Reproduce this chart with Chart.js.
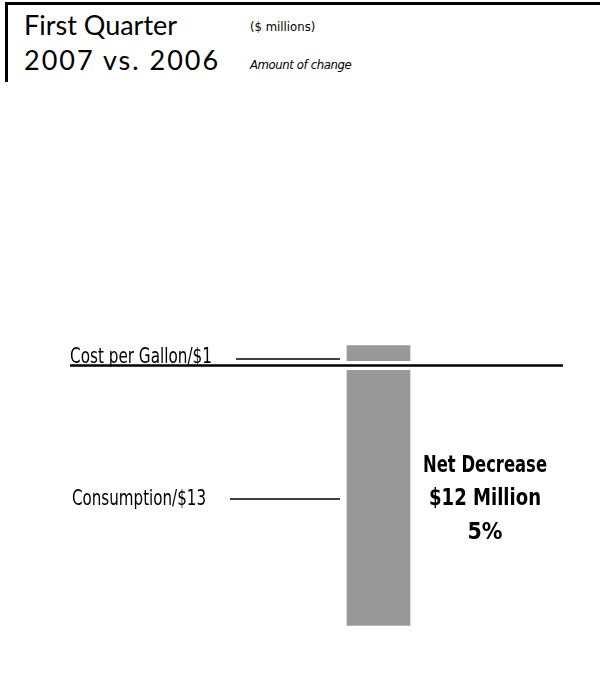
<!DOCTYPE html>
<html>
<head>
<meta charset="utf-8">
<script src="https://cdn.jsdelivr.net/npm/chart.js@4"></script>
<style>
    html, body { margin: 0; padding: 0; background: #fff; }
    #wrap { position: relative; width: 600px; height: 686px; overflow: hidden; }
    #frame {
        position: absolute; left: 5px; top: 2px; width: 595px; height: 80px;
        border-top: 3px solid #000; border-left: 3px solid #000; box-sizing: border-box;
    }
    .title { position: absolute; left: 24px; font-family: Lato, "Noto Sans", sans-serif; font-size: 27px; line-height: 1; white-space: nowrap; color: #000; }
    .note { position: absolute; left: 250px; font-family: "Liberation Sans Narrow", "DejaVu Sans Condensed", sans-serif; font-size: 13px; line-height: 1; white-space: nowrap; color: #000; }
    canvas { position: absolute; left: 0; top: 0; }
</style>
</head>
<body>
<div id="wrap">
    <div id="frame"></div>
    <div class="title" style="top:11px">First Quarter</div>
    <div class="title" style="top:46px;letter-spacing:2px">2007 vs. 2006</div>
    <div class="note" style="top:20px">($ millions)</div>
    <div class="note" style="top:58px;font-style:italic;letter-spacing:-0.4px">Amount of change</div>
    <canvas id="chart" width="600" height="686"></canvas>
</div>
<script>
// Amount of change, $ millions
const categories = ['Cost per Gallon', 'Consumption'];
const changes = [1, -13];
const changeLabels = ['Cost per Gallon/$1', 'Consumption/$13'];
const netLines = ['Net Decrease', '$12 Million', '5%'];

const NARROW = '"Liberation Sans Narrow", "DejaVu Sans Condensed", sans-serif';

// axis line, leader lines and text labels
const annotate = {
    id: 'annotate',
    afterDatasetsDraw(chart) {
        const ctx = chart.ctx;
        const y0 = chart.scales.y.getPixelForValue(0);
        ctx.save();

        // white gap around the zero line
        ctx.fillStyle = '#fff';
        ctx.fillRect(330, y0 - 4.5, 100, 9);

        ctx.strokeStyle = '#000';
        ctx.lineWidth = 2.5;
        ctx.beginPath();
        ctx.moveTo(70, y0);
        ctx.lineTo(563, y0);
        ctx.stroke();

        ctx.fillStyle = '#000';
        ctx.font = '22px ' + NARROW;
        chart.data.datasets.forEach((ds, i) => {
            const bar = chart.getDatasetMeta(i).data[0];
            const mid = (bar.y + bar.base) / 2 + 3.5;
            const up = changes[i] > 0;
            const label = changeLabels[i];
            const w = Math.min(ctx.measureText(label).width, up ? 142 : 134);
            if (up) {
                ctx.textBaseline = 'alphabetic';
                ctx.fillText(label, 70, y0 - 3, w);
            } else {
                ctx.textBaseline = 'middle';
                ctx.fillText(label, 72, mid, w);
            }
            ctx.lineWidth = 1.5;
            ctx.beginPath();
            ctx.moveTo((up ? 70 : 72) + w + 24, mid);
            ctx.lineTo(bar.x - bar.width / 2 - 7, mid);
            ctx.stroke();
        });

        // net change note beside the big bar
        const big = chart.getDatasetMeta(1).data[0];
        const cx = big.x + big.width / 2 + 75;
        const cy = (big.y + big.base) / 2 + 9.5;
        ctx.font = 'bold 23px ' + NARROW;
        ctx.textAlign = 'center';
        ctx.textBaseline = 'alphabetic';
        netLines.forEach((t, k) => {
            const w = Math.min(ctx.measureText(t).width, k === 0 ? 124 : 112);
            ctx.fillText(t, cx, cy + (k - 1) * 33.5, w);
        });
        ctx.restore();
    }
};

new Chart(document.getElementById('chart'), {
    type: 'bar',
    data: {
        labels: ['Q1'],
        datasets: categories.map((c, i) => ({
            label: c,
            data: [changes[i]],
            backgroundColor: '#999999',
            borderWidth: 0,
            barThickness: 63
        }))
    },
    options: {
        responsive: false,
        animation: false,
        events: [],
        layout: { padding: { left: 157, right: 0, top: 265.5, bottom: 20.5 } },
        plugins: { legend: { display: false }, tooltip: { enabled: false } },
        scales: {
            x: { display: false, stacked: true },
            y: { display: false, stacked: true, min: -15, max: 5 }
        }
    },
    plugins: [annotate]
});
</script>
</body>
</html>
